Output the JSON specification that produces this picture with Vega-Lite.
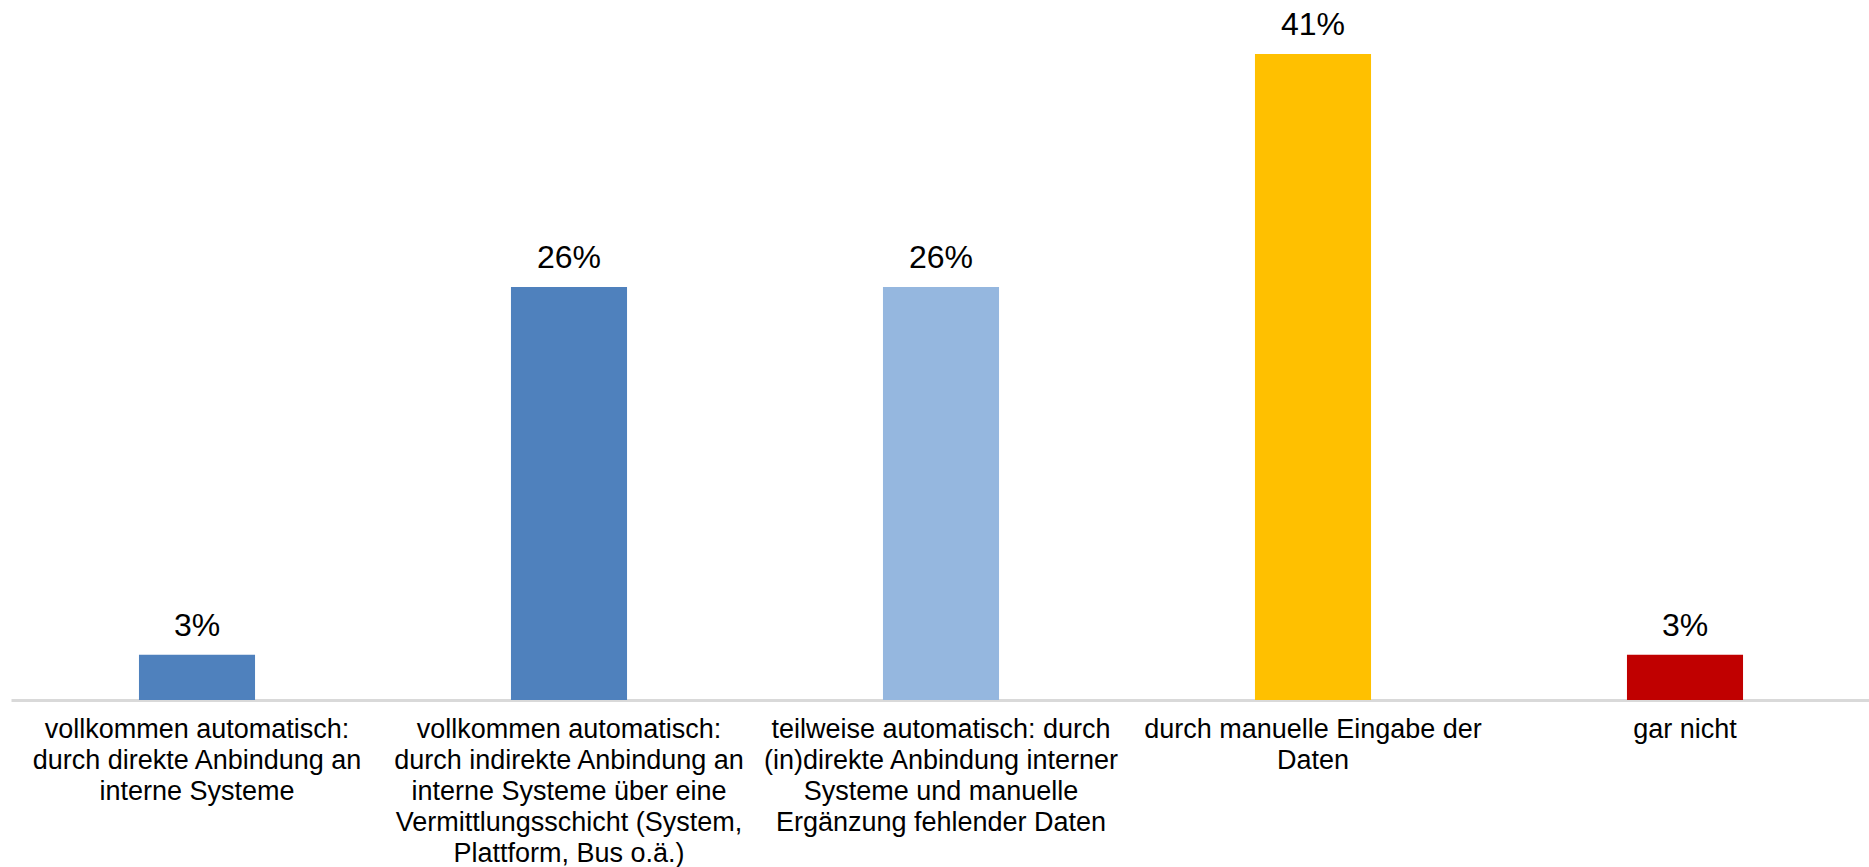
{
  "$schema": "https://vega.github.io/schema/vega-lite/v6.json",
  "width": 1860,
  "height": 700,
  "autosize": {"type": "none"},
  "padding": {"left": 11, "top": 0, "right": 0, "bottom": 167},
  "background": "white",
  "config": {"view": {"stroke": null}, "font": "Liberation Sans"},
  "data": {"values": [
    {"cat": "vollkommen automatisch:|durch direkte Anbindung an|interne Systeme", "value": 2.9, "label": "3%", "color": "c1"},
    {"cat": "vollkommen automatisch:|durch indirekte Anbindung an|interne Systeme über eine|Vermittlungsschicht (System,|Plattform, Bus o.ä.)", "value": 26.4, "label": "26%", "color": "c1"},
    {"cat": "teilweise automatisch: durch|(in)direkte Anbindung interner|Systeme und manuelle|Ergänzung fehlender Daten", "value": 26.4, "label": "26%", "color": "c2"},
    {"cat": "durch manuelle Eingabe der|Daten", "value": 41.3, "label": "41%", "color": "c3"},
    {"cat": "gar nicht", "value": 2.9, "label": "3%", "color": "c4"}
  ]},
  "encoding": {
    "x": {
      "field": "cat", "type": "nominal", "sort": null,
      "scale": {"paddingInner": 0.688, "paddingOuter": 0.344},
      "axis": {
        "title": null, "labelAngle": 0, "ticks": false,
        "labelExpr": "split(datum.label, '|')",
        "labelFont": "Liberation Sans", "labelFontSize": 27, "labelColor": "#000000",
        "labelLineHeight": 31, "labelPadding": 16, "labelBaseline": "top",
        "labelLimit": 400,
        "domainColor": "#d9d9d9", "domainWidth": 3
      }
    },
    "y": {
      "field": "value", "type": "quantitative",
      "scale": {"domain": [0, 44.75], "nice": false, "zero": true},
      "axis": null
    }
  },
  "layer": [
    {
      "mark": {"type": "bar"},
      "encoding": {
        "color": {
          "field": "color", "type": "nominal", "legend": null,
          "scale": {"domain": ["c1", "c2", "c3", "c4"], "range": ["#4F81BD", "#95B7DF", "#FFC000", "#C00000"]}
        }
      }
    },
    {
      "mark": {"type": "text", "font": "Liberation Sans", "fontSize": 32, "color": "#000000", "baseline": "alphabetic", "dy": -19},
      "encoding": {"text": {"field": "label"}}
    }
  ]
}
